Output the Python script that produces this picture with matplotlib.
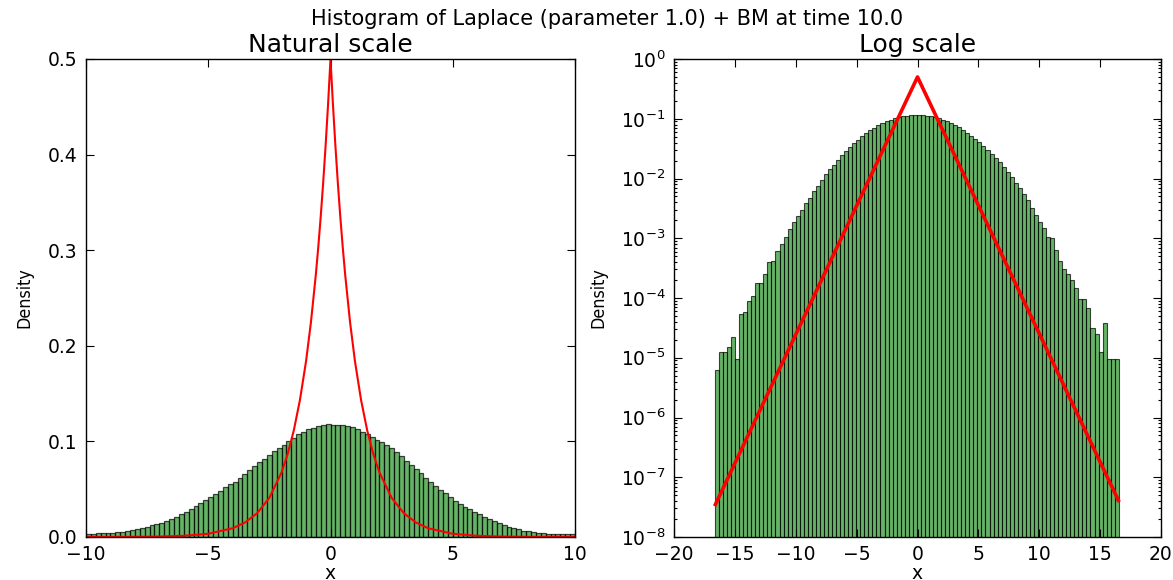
import os
import numpy as np
import matplotlib
matplotlib.use("Agg")
import matplotlib.pyplot as plt
from matplotlib import font_manager
from matplotlib.ticker import LogLocator, NullFormatter, FormatStrFormatter

# ---------------- data ----------------
suptitle_text = "Histogram of Laplace (parameter 1.0) + BM at time 10.0"
left_title = "Natural scale"
right_title = "Log scale"
x_label = "x"
y_label = "Density"

# natural-scale histogram: 100 bins on [-10, 10]
nat_lo, nat_hi = -10.0, 10.0
nat_density = [
    0.0035, 0.0035, 0.0037, 0.0040, 0.0042, 0.0045, 0.0052, 0.0055, 0.0063, 0.0070,
    0.0085, 0.0095, 0.0108, 0.0125, 0.0135, 0.0150, 0.0167, 0.0190, 0.0210, 0.0240,
    0.0260, 0.0295, 0.0325, 0.0355, 0.0390, 0.0420, 0.0450, 0.0485, 0.0520, 0.0550,
    0.0580, 0.0620, 0.0660, 0.0700, 0.0740, 0.0780, 0.0815, 0.0855, 0.0895, 0.0935,
    0.0965, 0.1000, 0.1040, 0.1075, 0.1100, 0.1125, 0.1145, 0.1160, 0.1175, 0.1180,
    0.1171, 0.1171, 0.1170, 0.1161, 0.1147, 0.1126, 0.1102, 0.1078, 0.1043, 0.1011,
    0.0990, 0.0959, 0.0928, 0.0893, 0.0847, 0.0798, 0.0757, 0.0715, 0.0666, 0.0617,
    0.0575, 0.0533, 0.0492, 0.0457, 0.0415, 0.0380, 0.0345, 0.0317, 0.0289, 0.0265,
    0.0237, 0.0213, 0.0185, 0.0167, 0.0143, 0.0126, 0.0108, 0.0098, 0.0080, 0.0066,
    0.0059, 0.0052, 0.0045, 0.0038, 0.0035, 0.0035, 0.0031, 0.0031, 0.0031, 0.0031,
]

# log-scale histogram: 100 bins over the full sample range
log_lo, log_hi = -16.64, 16.53
log_density = [
    6.24e-6, 1.23e-5, 1.23e-5, 1.53e-5, 2.20e-5, 9.42e-6, 5.40e-5, 5.90e-5, 9.02e-5, 1.09e-4,
    1.80e-4, 1.80e-4, 2.52e-4, 3.95e-4, 4.16e-4, 6.04e-4, 8.02e-4, 1.06e-3, 1.41e-3, 1.85e-3,
    2.39e-3, 2.97e-3, 3.84e-3, 4.66e-3, 6.18e-3, 7.40e-3, 9.44e-3, 1.175e-2, 1.426e-2, 1.702e-2,
    2.042e-2, 2.443e-2, 2.884e-2, 3.327e-2, 3.882e-2, 4.406e-2, 5.08e-2, 5.78e-2, 6.40e-2, 7.08e-2,
    7.76e-2, 8.38e-2, 9.02e-2, 9.62e-2, 0.1016, 0.1067, 0.1104, 0.1132, 0.1148, 0.1156,
    0.1156, 0.1148, 0.1132, 0.1104, 0.1067, 0.1021, 0.0968, 0.0910, 0.0847, 0.0783,
    0.0718, 0.0652, 0.0586, 0.0524, 0.0463, 0.0406, 0.0353, 0.0305, 0.0261, 0.0221,
    0.0186, 0.0155, 0.0128, 0.0105, 0.00855, 0.00689, 0.00550, 0.00437, 0.00324, 0.00245,
    0.00190, 0.00147, 0.00106, 0.000998, 0.000635, 0.000422, 0.000302, 0.000252, 0.000200, 0.000145,
    9.5e-5, 9.5e-5, 6.71e-5, 3.10e-5, 2.49e-5, 1.23e-5, 3.77e-5, 9.42e-6, 9.42e-6, 9.42e-6,
]

# Laplace(1) density curve (natural scale)
laplace_x = [-10, -8, -7, -6, -5, -4, -3.5, -3, -2.5, -2, -1.75, -1.5, -1.25, -1, -0.8,
             -0.6, -0.5, -0.4, -0.3, -0.2, -0.1, 0,
             0.1, 0.2, 0.3, 0.4, 0.5, 0.6, 0.8, 1, 1.25, 1.5, 1.75, 2, 2.5, 3, 3.5, 4,
             5, 6, 7, 8, 10]
laplace_y = [2.3e-5, 1.7e-4, 4.6e-4, 1.24e-3, 3.37e-3, 9.16e-3, 0.0151, 0.0249, 0.0410,
             0.0677, 0.0869, 0.1116, 0.1433, 0.1839, 0.2247, 0.2744, 0.3033, 0.3352,
             0.3704, 0.4094, 0.4524, 0.5,
             0.4524, 0.4094, 0.3704, 0.3352, 0.3033, 0.2744, 0.2247, 0.1839, 0.1433,
             0.1116, 0.0869, 0.0677, 0.0410, 0.0249, 0.0151, 9.16e-3, 3.37e-3, 1.24e-3,
             4.6e-4, 1.7e-4, 2.3e-5]
# same density on log scale (straight segments)
laplace_log_x = [-16.6, 0.0, 16.5]
laplace_log_y = [3.5e-8, 0.5, 4.1e-8]

nat_xticks = [-10, -5, 0, 5, 10]
nat_yticks = [0.0, 0.1, 0.2, 0.3, 0.4, 0.5]
log_xticks = [-20, -15, -10, -5, 0, 5, 10, 15, 20]

# ---------------- style ----------------
plt.rcParams["font.family"] = ["DejaVu Sans"]
plt.rcParams["axes.unicode_minus"] = True

tick_fs = 13.5
title_fs = 18
sup_fs = 15

# pick a condensed face for the y label if present
cond_path = font_manager.findfont(
    font_manager.FontProperties(family="DejaVu Sans", stretch="condensed"))
if "condensed" in os.path.basename(cond_path).lower():
    ylabel_fp = font_manager.FontProperties(fname=cond_path, size=12.8)
else:
    ylabel_fp = font_manager.FontProperties(family="DejaVu Sans", size=11.8)

bar_face = (0.0, 0.5, 0.0, 0.6)
bar_edge = (0.0, 0.0, 0.0, 0.7)

W, H = 1173, 580
fig = plt.figure(figsize=(W / 100, H / 100), dpi=100, facecolor="white")

ax1 = fig.add_axes([86 / W, 1 - 537 / H, 489 / W, 478 / H])
ax2 = fig.add_axes([674 / W, 1 - 537 / H, 487 / W, 478 / H])


def style_axes(ax):
    for s in ax.spines.values():
        s.set_linewidth(1.0)
        s.set_color("black")
    ax.tick_params(which="both", direction="in", top=True, right=True,
                   labelsize=tick_fs, width=0.8)
    ax.tick_params(axis="x", pad=5.5)
    ax.tick_params(axis="y", pad=6.0)
    ax.tick_params(which="major", length=5.5)
    ax.tick_params(which="minor", length=2.5)


# ---- left: natural scale ----
nat_edges = np.linspace(nat_lo, nat_hi, len(nat_density) + 1)
ax1.bar(nat_edges[:-1], nat_density, width=np.diff(nat_edges), align="edge",
        color=bar_face, edgecolor=bar_edge, linewidth=0.9)
ax1.plot(laplace_x, laplace_y, color="red", linewidth=1.5)
ax1.set_xlim(-10, 10)
ax1.set_ylim(0, 0.5)
ax1.set_xticks(nat_xticks)
ax1.set_yticks(nat_yticks)
ax1.yaxis.set_major_formatter(FormatStrFormatter("%.1f"))
style_axes(ax1)
ax1.set_title(left_title, fontsize=title_fs, pad=5)
ax1.set_xlabel(x_label, fontsize=tick_fs, labelpad=0.5)
ax1.set_ylabel(y_label, fontproperties=ylabel_fp)
ax1.yaxis.set_label_coords((33 - 86) / 489, 0.5)

# ---- right: log scale ----
ax2.set_yscale("log")
log_edges = np.linspace(log_lo, log_hi, len(log_density) + 1)
ax2.bar(log_edges[:-1], log_density, width=np.diff(log_edges), align="edge",
        color=bar_face, edgecolor=bar_edge, linewidth=0.8)
ax2.plot(laplace_log_x, laplace_log_y, color="red", linewidth=2.6)
ax2.set_xlim(-20, 20)
ax2.set_ylim(1e-8, 1)
ax2.set_xticks(log_xticks)
ax2.yaxis.set_major_locator(LogLocator(base=10, numticks=20))
ax2.yaxis.set_minor_locator(LogLocator(base=10, subs=np.arange(2, 10), numticks=200))
ax2.yaxis.set_minor_formatter(NullFormatter())
style_axes(ax2)
ax2.set_title(right_title, fontsize=title_fs, pad=5)
ax2.set_xlabel(x_label, fontsize=tick_fs, labelpad=0.5)
ax2.set_ylabel(y_label, fontproperties=ylabel_fp)
ax2.yaxis.set_label_coords((607 - 674) / 487, 0.5)

fig.text(607 / W, 1 - 25 / H, suptitle_text, ha="center", va="baseline",
         fontsize=sup_fs)

fig.savefig("out.png", dpi=100, facecolor="white")
